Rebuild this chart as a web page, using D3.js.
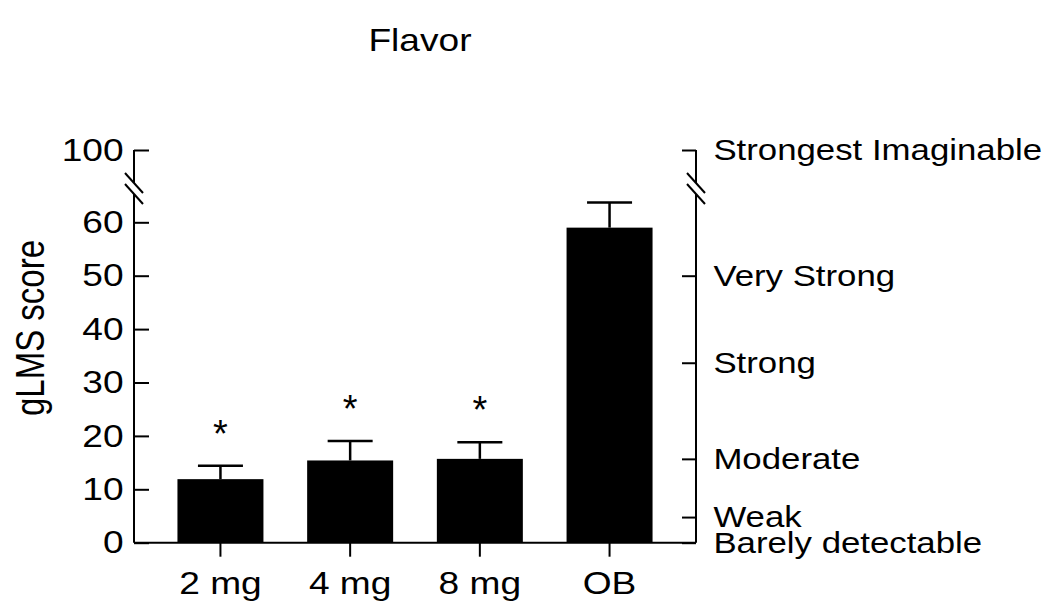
<!DOCTYPE html>
<html>
<head>
<meta charset="utf-8">
<script src="https://cdn.jsdelivr.net/npm/d3@7"></script>
<style>
  body { margin: 0; background: #fff; }
  text { font-family: "Liberation Sans", Arial, sans-serif; fill: #000; }
</style>
</head>
<body>
<div id="graph"></div>
<script>
const categories = ["2 mg", "4 mg", "8 mg", "OB"];
const means = [11.9, 15.4, 15.7, 59.0];
const errors = [2.5, 3.65, 3.1, 4.7];
const significant = [true, true, true, false];
const leftTicks = [0, 10, 20, 30, 40, 50, 60, 100];
const rightLabels = ["Barely detectable", "Weak", "Moderate", "Strong", "Very Strong", "Strongest Imaginable"];
const rightValues = [0, 4.8, 15.7, 33.7, 50, 100];

const w = 1050;
const h = 611;
const left = 134;
const right = 696;
const stretch = 1.16;

const svg = d3.select("#graph")
    .append("svg")
    .attr("width", w)
    .attr("height", h);

// broken axis: linear up to 65, compressed above
const y = d3.scaleLinear()
    .domain([0, 65, 100])
    .range([542.7, 195.6, 150]);

const x = d3.scaleBand()
    .domain(categories)
    .range([left, right])
    .paddingInner(0.337)
    .paddingOuter(0.335);

svg.append("g")
    .attr("transform", "translate(420, 51) scale(" + stretch + ",1)")
    .append("text")
    .attr("text-anchor", "middle")
    .style("font-size", "32px")
    .text("Flavor");

svg.append("g")
    .attr("transform", "translate(44, 328) scale(" + (stretch + 0.06) + ",1) rotate(-90)")
    .append("text")
    .attr("text-anchor", "middle")
    .style("font-size", "33px")
    .text("gLMS score");

// bars
svg.selectAll("rect.bar")
    .data(means)
    .enter()
    .append("rect")
    .attr("class", "bar")
    .attr("x", (d, i) => x(categories[i]))
    .attr("y", d => y(d))
    .attr("width", x.bandwidth())
    .attr("height", d => y(0) - y(d))
    .attr("fill", "#000");

const capW = 45;
const err = svg.append("g")
    .attr("stroke", "#000")
    .attr("stroke-width", 2.5);

err.selectAll("line.stem")
    .data(means)
    .enter()
    .append("line")
    .attr("x1", (d, i) => x(categories[i]) + x.bandwidth() / 2)
    .attr("x2", (d, i) => x(categories[i]) + x.bandwidth() / 2)
    .attr("y1", d => y(d))
    .attr("y2", (d, i) => y(d + errors[i]));

err.selectAll("line.cap")
    .data(means)
    .enter()
    .append("line")
    .attr("x1", (d, i) => x(categories[i]) + x.bandwidth() / 2 - capW / 2)
    .attr("x2", (d, i) => x(categories[i]) + x.bandwidth() / 2 + capW / 2)
    .attr("y1", (d, i) => y(d + errors[i]))
    .attr("y2", (d, i) => y(d + errors[i]));

svg.selectAll("text.star")
    .data(means.filter((d, i) => significant[i]))
    .enter()
    .append("text")
    .attr("class", "star")
    .attr("x", (d, i) => x(categories[i]) + x.bandwidth() / 2)
    .attr("y", (d, i) => y(d + errors[i]) - 19)
    .attr("text-anchor", "middle")
    .style("font-size", "38px")
    .text("*");

// left axis
const leftAxis = d3.axisLeft(y)
    .tickValues(leftTicks)
    .tickFormat(d3.format("d"))
    .tickSizeInner(-15)
    .tickSizeOuter(0)
    .tickPadding(9);

const gl = svg.append("g")
    .attr("transform", "translate(" + left + ",0)")
    .call(leftAxis);

// right axis
const yr = d3.scaleLinear().domain(y.domain()).range(y.range());
const rightAxis = d3.axisRight(yr)
    .tickValues(rightValues)
    .tickFormat((d, i) => rightLabels[i])
    .tickSizeInner(-14)
    .tickSizeOuter(0)
    .tickPadding(15);

const gr = svg.append("g")
    .attr("transform", "translate(" + right + ",0)")
    .call(rightAxis);

[gl, gr].forEach(g => {
    g.select(".domain").remove();
    g.selectAll(".tick line").attr("stroke", "#000").attr("stroke-width", 2);
    g.selectAll(".tick text")
        .attr("transform", "scale(" + stretch + ",1)")
        .style("font-size", "32px")
        .attr("fill", "#000");
});
gr.selectAll(".tick text").style("font-size", "30px");

// axis segments with break marks
const breakA = 183;
const breakB = 194;
[left, right].forEach(ax => {
    const g = svg.append("g")
        .attr("stroke", "#000")
        .attr("stroke-width", 2)
        .attr("fill", "none");
    g.append("line")
        .attr("x1", ax).attr("x2", ax)
        .attr("y1", y(100)).attr("y2", breakA);
    g.append("line")
        .attr("x1", ax).attr("x2", ax)
        .attr("y1", breakB).attr("y2", y(0));
    [breakA, breakB].forEach(b => {
        g.append("line")
            .attr("x1", ax - 9).attr("y1", b - 10)
            .attr("x2", ax + 9).attr("y2", b + 10);
    });
});

// x axis
const xAxis = d3.axisBottom(x)
    .tickSizeInner(14)
    .tickSizeOuter(0)
    .tickPadding(15);

const gx = svg.append("g")
    .attr("transform", "translate(0," + y(0) + ")")
    .call(xAxis);

gx.select(".domain").remove();
gx.selectAll(".tick line").attr("stroke", "#000").attr("stroke-width", 2);
gx.selectAll(".tick text")
    .attr("transform", "scale(" + stretch + ",1)")
    .style("font-size", "32px")
    .attr("fill", "#000");

svg.append("line")
    .attr("x1", left)
    .attr("x2", right)
    .attr("y1", y(0))
    .attr("y2", y(0))
    .attr("stroke", "#000")
    .attr("stroke-width", 2);
</script>
</body>
</html>
